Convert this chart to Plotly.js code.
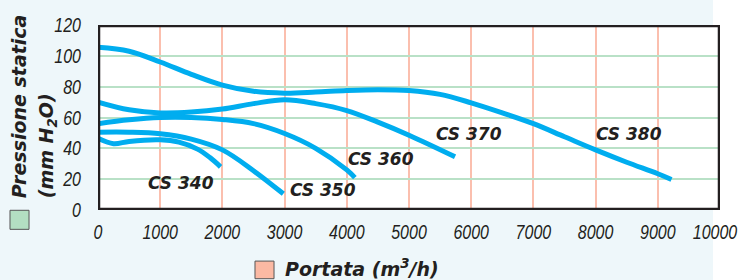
<!DOCTYPE html>
<html>
<head>
<meta charset="utf-8">
<script src="https://cdn.plot.ly/plotly-3.0.1.min.js"></script>
<style>
html,body{margin:0;padding:0;background:#eef7fa;}
#chart{width:738px;height:280px;}
.xtick text, .ytick text{font-style:italic !important;}
</style>
</head>
<body>
<div id="chart"></div>
<script>
// Data: Portata (m3/h) vs Pressione statica (mm H2O)
const seriesNames = ["CS 340", "CS 350", "CS 360", "CS 370", "CS 380"];

const flow340 = [0, 250, 500, 1000, 1300, 1600, 1800, 1970];
const pres340 = [46.5, 43, 44.5, 45.5, 44, 39.5, 34, 28];

const flow350 = [0, 500, 1000, 1500, 2000, 2500, 2980];
const pres350 = [50.5, 50.5, 49.5, 46, 39, 25.5, 10.5];

const flow360 = [0, 500, 1000, 1500, 2000, 2500, 3000, 3500, 4000, 4130];
const pres360 = [56, 58.5, 60, 60, 58.7, 56, 49.6, 40, 26, 21];

const flow370 = [0, 500, 1000, 1500, 2000, 2500, 3000, 3500, 4000, 4500, 5000, 5740];
const pres370 = [70, 65, 63, 63.5, 65.5, 69, 71.5, 69, 64.5, 57, 48.5, 34.5];

const flow380 = [0, 500, 1000, 1500, 2000, 2500, 3000, 3500, 4000, 4500, 5000, 5500, 6000, 6500, 7000, 7500, 8000, 8500, 9000, 9220];
const pres380 = [105.5, 103, 96, 88, 81, 77, 75.8, 76.5, 77.5, 78, 77.5, 75, 69.5, 63, 56, 47.5, 39, 31, 23.5, 19.8];

const xTicks = [0, 1000, 2000, 3000, 4000, 5000, 6000, 7000, 8000, 9000, 10000];
const yTicks = [0, 20, 40, 60, 80, 100, 120];

const flows = [flow340, flow350, flow360, flow370, flow380];
const pressures = [pres340, pres350, pres360, pres370, pres380];

const curveColor = "#00adef";
const ink = "#231f20";
const tickFont = {family: "Liberation Sans, Arial, sans-serif", size: 20, style: "italic", color: ink};
const labelFont = {family: "DejaVu Sans, Verdana, sans-serif", size: 17, weight: "bold", style: "italic", color: ink};
const titleFont = {family: "DejaVu Sans, Verdana, sans-serif", size: 19, weight: "bold", style: "italic", color: ink};

const traces = seriesNames.map((name, i) => ({
  type: "scatter",
  mode: "lines",
  name: name,
  x: flows[i],
  y: pressures[i],
  line: {color: curveColor, width: 5, shape: "spline", smoothing: 1},
  hoverinfo: "skip"
}));

// label anchor positions (data coords)
const labelPos = [[1340, 17.6], [3625, 12.8], [4550, 32.9], [5965, 49.1], [8537, 49.1]];
const annotations = seriesNames.map((name, i) => ({
  x: labelPos[i][0], y: labelPos[i][1], xref: "x", yref: "y",
  text: name, showarrow: false, xanchor: "center", yanchor: "middle",
  font: labelFont
}));

annotations.push(
  {xref: "paper", yref: "paper", x: -0.127, y: 0.0525, xanchor: "center", yanchor: "bottom",
   text: "Pressione statica", textangle: -90, showarrow: false, font: titleFont},
  {xref: "paper", yref: "paper", x: -0.0812, y: 0.0525, xanchor: "center", yanchor: "bottom",
   text: "(mm H<sub>2</sub>O)", textangle: -90, showarrow: false, font: titleFont},
  {xref: "paper", yref: "paper", x: 0.2974, y: -0.311, xanchor: "left", yanchor: "middle",
   text: "Portata (m<sup>3</sup>/h)", showarrow: false, font: titleFont}
);

const shapes = [
  {type: "rect", xref: "paper", yref: "paper", x0: 0.9887, x1: 1.04, y0: -0.5, y1: 1.2,
   fillcolor: "#ffffff", line: {width: 0}, layer: "below"},
  {type: "rect", xref: "x", yref: "y", x0: 0, x1: 10000, y0: 0, y1: 120,
   line: {color: ink, width: 4.5}, fillcolor: "rgba(0,0,0,0)", layer: "above"},
  {type: "rect", xref: "paper", yref: "paper", x0: -0.1415, x1: -0.1109, y0: -0.1045, y1: -0.0016,
   fillcolor: "#b3dfc2", line: {color: "#555555", width: 1}},
  {type: "rect", xref: "paper", yref: "paper", x0: 0.2524, x1: 0.283, y0: -0.3714, y1: -0.2761,
   fillcolor: "#fbb9a3", line: {color: "#555555", width: 1}}
];

const layout = {
  width: 738, height: 280,
  margin: {l: 98, r: 18, t: 25, b: 70.3, pad: 0},
  paper_bgcolor: "#eef7fa",
  plot_bgcolor: "#ffffff",
  showlegend: false,
  xaxis: {
    range: [0, 10000], tickvals: xTicks, ticktext: xTicks.map(String),
    showgrid: true, gridcolor: "#fbbfae", gridwidth: 2,
    zeroline: false, showline: false,
    ticks: "outside", ticklen: 4, tickcolor: "rgba(0,0,0,0)",
    tickfont: tickFont, ticklabeloverflow: "allow", fixedrange: true
  },
  yaxis: {
    range: [0, 120], tickvals: yTicks, ticktext: yTicks.map(String),
    showgrid: true, gridcolor: "#b9e1c7", gridwidth: 2,
    zeroline: false, showline: false,
    ticks: "outside", ticklen: 12, tickcolor: "rgba(0,0,0,0)",
    tickfont: tickFont, fixedrange: true
  },
  annotations: annotations,
  shapes: shapes
};

Plotly.newPlot("chart", traces, layout, {displayModeBar: false, staticPlot: true}).then(gd => {
  // condensed italic look for tick labels (horizontal squeeze around each label's anchor)
  const sx = 0.8;
  gd.querySelectorAll(".xtick text, .ytick text").forEach(t => {
    const x = parseFloat(t.getAttribute("x") || 0);
    const y = parseFloat(t.getAttribute("y") || 0);
    const tr = t.getAttribute("transform") || "";
    const dx = t.textContent === "10000" ? -5 : 0;
    t.style.fontStyle = "italic";
    t.setAttribute("transform", tr + " translate(" + (x + dx) + "," + y + ") scale(" + sx + ",1) translate(" + (-x) + "," + (-y) + ")");
  });
});
</script>
</body>
</html>
